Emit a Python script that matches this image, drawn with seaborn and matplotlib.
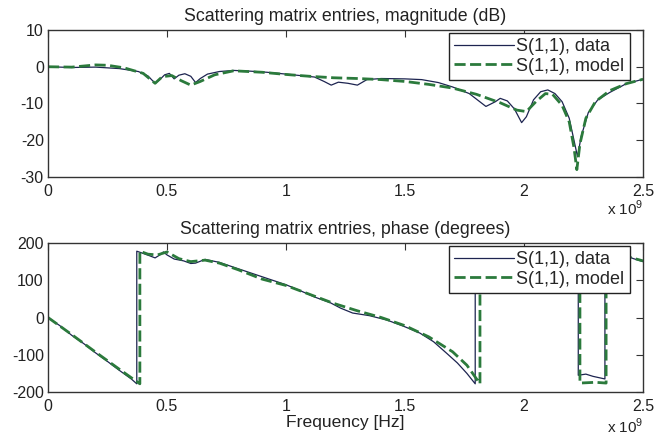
import numpy as np
import pandas as pd
import matplotlib
matplotlib.use("Agg")
import matplotlib.pyplot as plt
import seaborn as sns
from matplotlib.ticker import FuncFormatter

# ---------------- data (frequency in GHz) ----------------
mag_data_f = [0, 0.1, 0.2, 0.3, 0.38, 0.42, 0.45, 0.47, 0.49, 0.51, 0.53, 0.55, 0.575,
              0.6, 0.62, 0.64, 0.67, 0.72, 0.78, 0.85, 0.92, 1.0, 1.06, 1.12, 1.16, 1.19,
              1.22, 1.26, 1.3, 1.34, 1.4, 1.5, 1.57, 1.64, 1.7, 1.77, 1.84, 1.88, 1.9,
              1.93, 1.96, 1.99, 2.01, 2.04, 2.07, 2.1, 2.13, 2.16, 2.19, 2.21, 2.225,
              2.24, 2.27, 2.31, 2.36, 2.43, 2.5]
mag_data_db = [0, -0.2, -0.1, -0.5, -1.3, -2.5, -4.5, -3.5, -2.2, -1.8, -3.3, -2.3, -1.9,
               -2.6, -4.3, -3.2, -2.0, -1.3, -1.0, -1.2, -1.5, -2.0, -2.4, -2.8, -4.0, -5.0,
               -4.2, -4.5, -5.0, -3.5, -3.2, -3.3, -3.5, -4.3, -5.5, -7.3, -10.8, -9.5, -8.6,
               -9.3, -11.5, -15.2, -13.6, -9.0, -6.8, -6.3, -7.3, -9.5, -14.0, -20.0, -24.5,
               -19.0, -12.5, -9.0, -7.0, -4.6, -3.4]

mag_model_f = [0, 0.1, 0.2, 0.25, 0.32, 0.4, 0.45, 0.48, 0.52, 0.56, 0.6, 0.64, 0.7,
               0.78, 0.9, 1.0, 1.1, 1.2, 1.3, 1.4, 1.5, 1.6, 1.7, 1.8, 1.9, 1.97, 2.01,
               2.05, 2.09, 2.12, 2.16, 2.19, 2.21, 2.222, 2.235, 2.26, 2.3, 2.36, 2.43, 2.5]
mag_model_db = [0, -0.1, 0.5, 0.4, -0.3, -1.8, -4.5, -2.7, -2.4, -3.8, -5.0, -4.0, -2.2,
                -1.1, -1.5, -2.1, -2.6, -3.0, -3.2, -3.5, -4.0, -4.8, -5.8, -7.5, -9.8,
                -11.8, -12.2, -9.5, -7.3, -7.5, -10.5, -15.0, -22.0, -28.0, -21.0, -14.0,
                -9.5, -6.5, -4.6, -3.4]

ph_data_f = [0, 0.05, 0.1, 0.15, 0.2, 0.25, 0.3, 0.35, 0.373, 0.373, 0.4, 0.43, 0.45,
             0.47, 0.485, 0.5, 0.53, 0.57, 0.6, 0.62, 0.66, 0.72, 0.78, 0.85, 0.92, 1.0,
             1.06, 1.12, 1.185, 1.23, 1.28, 1.35, 1.425, 1.5, 1.563, 1.62, 1.675, 1.72,
             1.76, 1.795, 1.795, 1.85, 1.95, 2.05, 2.15, 2.228, 2.228, 2.26, 2.29, 2.34,
             2.34, 2.42, 2.46, 2.5]
ph_data_deg = [0, -22, -48, -70, -95, -118, -142, -165, -178, 178, 172, 165, 160,
               168, 176, 168, 157, 152, 145, 146, 156, 148, 135, 120, 105, 88,
               72, 55, 40, 25, 12, 5, -7, -25, -42, -65, -96, -122,
               -150, -178, 178, 165, 145, 130, 150, 175, -155, -152, -158, -165,
               178, 168, 158, 150]

ph_model_f = [0, 0.1, 0.2, 0.3, 0.386, 0.386, 0.42, 0.46, 0.5, 0.55, 0.6, 0.66, 0.72,
              0.8, 0.9, 1.0, 1.1, 1.2, 1.3, 1.4, 1.5, 1.6, 1.7, 1.76, 1.815, 1.815,
              1.9, 2.0, 2.1, 2.2, 2.235, 2.235, 2.3, 2.345, 2.345, 2.42, 2.5]
ph_model_deg = [0, -46, -93, -139, -178, 178, 170, 168, 176, 158, 150, 154, 146,
                128, 103, 86, 62, 38, 18, 0, -22, -52, -92, -128, -178, 178,
                160, 142, 125, 160, 176, -176, -174, -176, 178, 166, 152]

labels = ["S(1,1), data", "S(1,1), model"]
titles = ["Scattering matrix entries, magnitude (dB)",
          "Scattering matrix entries, phase (degrees)"]
xlabel = "Frequency [Hz]"
xticks_ghz = [0, 0.5, 1, 1.5, 2, 2.5]
offset_label = r"x 10$^{9}$"

# ---------------- style ----------------
sns.set_style("white")
plt.rcParams["font.family"] = ["Liberation Sans", "DejaVu Sans"]
plt.rcParams["mathtext.fontset"] = "custom"
plt.rcParams["mathtext.rm"] = "Liberation Sans"
plt.rcParams["axes.unicode_minus"] = False

c_data = "#1d2450"
c_model = "#2b7a3c"
palette = {labels[0]: c_data, labels[1]: c_model}
dashes = {labels[0]: "", labels[1]: (4, 1.6)}
sizes = {labels[0]: 0.9, labels[1]: 2.0}


def make_df(f1, y1, f2, y2):
    d1 = pd.DataFrame({"f": np.array(f1) * 1e9, "y": y1, "series": labels[0]})
    d2 = pd.DataFrame({"f": np.array(f2) * 1e9, "y": y2, "series": labels[1]})
    return pd.concat([d1, d2], ignore_index=True)


fig = plt.figure(figsize=(6.56, 4.36), dpi=100)
W, H = 656, 436
ax1 = fig.add_axes([48 / W, (H - 177) / H, 595 / W, 147 / H])
ax2 = fig.add_axes([48 / W, (H - 392) / H, 595 / W, 149 / H])

df_mag = make_df(mag_data_f, mag_data_db, mag_model_f, mag_model_db)
df_ph = make_df(ph_data_f, ph_data_deg, ph_model_f, ph_model_deg)

for ax, df, ylim, yticks, title, offy in [
        (ax1, df_mag, (-30, 10), [-30, -20, -10, 0, 10], titles[0], -38 / 147),
        (ax2, df_ph, (-200, 200), [-200, -100, 0, 100, 200], titles[1], -41 / 149)]:
    sns.lineplot(data=df, x="f", y="y", hue="series", style="series", size="series",
                 palette=palette, dashes=dashes, sizes=sizes, sort=False,
                 estimator=None, ax=ax)
    ax.set_xlim(0, 2.5e9)
    ax.set_ylim(*ylim)
    ax.set_yticks(yticks)
    ax.set_xticks(np.array(xticks_ghz) * 1e9)
    ax.xaxis.set_major_formatter(FuncFormatter(lambda v, p: f"{v / 1e9:g}"))
    ax.text(1.0, offy, offset_label, transform=ax.transAxes, ha="right",
            va="baseline", fontsize=11, color="#222222")
    ax.set_title(title, fontsize=12.8, color="#222222", pad=6.5)
    ax.set_ylabel("")
    ax.set_xlabel("")
    ax.tick_params(direction="in", top=True, right=True, length=5, width=0.8,
                   labelsize=11.5, colors="#333333", labelcolor="#222222", pad=3)
    ax.tick_params(axis="x", pad=5)
    for s in ax.spines.values():
        s.set_color("#333333")
        s.set_linewidth(1.0)
    leg = ax.legend(loc="upper right", bbox_to_anchor=(1 - 13 / 595, 1 - 3 / 147),
                    borderaxespad=0, fontsize=13, frameon=True, fancybox=False,
                    framealpha=1, edgecolor="#222222", handlelength=3.3,
                    handletextpad=0.15, borderpad=0.3, labelspacing=0.12)
    leg.get_frame().set_linewidth(1.0)

ax2.set_xlabel(xlabel, fontsize=12.6, color="#222222", labelpad=1)

fig.savefig("out.png", dpi=100, facecolor="white")
